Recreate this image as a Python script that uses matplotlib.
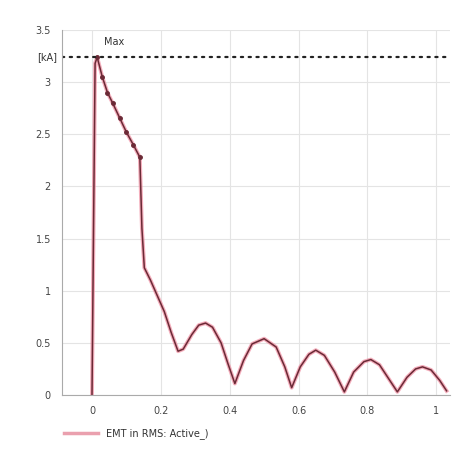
import matplotlib as mpl
mpl.use('Agg')
import matplotlib.pyplot as plt

# time [s] and current [kA]
t = [0.0, 0.009, 0.015, 0.03, 0.045, 0.06, 0.08, 0.10, 0.12, 0.139,
     0.145, 0.152, 0.17, 0.19, 0.21, 0.23, 0.25, 0.265, 0.29, 0.31, 0.33,
     0.35, 0.375, 0.395, 0.415, 0.44, 0.465, 0.50, 0.535, 0.56, 0.58, 0.605,
     0.63, 0.65, 0.675, 0.705, 0.733, 0.76, 0.79, 0.81, 0.835, 0.865, 0.887,
     0.915, 0.94, 0.96, 0.985, 1.01, 1.03]
current = [0.0, 3.18, 3.24, 3.05, 2.9, 2.8, 2.66, 2.52, 2.4, 2.28,
           1.6, 1.22, 1.1, 0.95, 0.8, 0.6, 0.42, 0.44, 0.58, 0.67, 0.69,
           0.65, 0.5, 0.3, 0.11, 0.33, 0.49, 0.54, 0.46, 0.27, 0.07, 0.27,
           0.39, 0.43, 0.38, 0.22, 0.03, 0.22, 0.32, 0.34, 0.29, 0.14, 0.03,
           0.17, 0.25, 0.27, 0.24, 0.14, 0.04]
i_max = 3.24

xticks = [0, 0.2, 0.4, 0.6, 0.8, 1]
xlabels = ['0', '0.2', '0.4', '0.6', '0.8', '1']
yticks = [0, 0.5, 1, 1.5, 2, 2.5, 3, 3.5]
ylabels = ['0', '0.5', '1', '1.5', '2', '2.5', '3', '3.5']
series_name = 'EMT in RMS: Active_)'

fig = plt.figure(figsize=(4.63, 4.62), dpi=100)
ax = fig.add_axes([0.134, 0.145, 0.838, 0.79])

ax.plot(t, current, color='#f08ca0', lw=2.8, alpha=0.7, solid_joinstyle='round')
ax.plot(t, current, color='#6b2a36', lw=1.1, solid_joinstyle='round', label=series_name)
ax.plot(t[2:10], current[2:10], ls='none', marker='o', ms=2.5, color='#6b2a36')

ax.axhline(i_max, color='#222222', lw=1.6, ls=(0, (1, 2.5)), dash_capstyle='round')
ax.text(0.035, i_max + 0.1, 'Max', fontsize=7, color='#333333', va='bottom')
ax.text(-0.1, i_max, '[kA]', fontsize=7, color='#333333', ha='right', va='center')

ax.set_xlim(-0.087, 1.04)
ax.set_ylim(0, 3.5)
ax.set_xticks(xticks)
ax.set_xticklabels(xlabels)
ax.set_yticks(yticks)
ax.set_yticklabels(ylabels)
ax.tick_params(labelsize=7, colors='#444444', length=0, pad=8)
ax.grid(True, color='#e4e4e4', lw=0.8)
ax.set_axisbelow(True)

for side in ['top', 'right']:
    ax.spines[side].set_visible(False)
for side in ['left', 'bottom']:
    ax.spines[side].set_color('#aaaaaa')

handle = plt.Line2D([], [], color='#eaa0ae', lw=2.5)
fig.legend([handle], [series_name], loc='lower left', bbox_to_anchor=(0.12, 0.03),
           frameon=False, fontsize=7, handlelength=3.5, labelcolor='#333333')

fig.savefig('out.png')
